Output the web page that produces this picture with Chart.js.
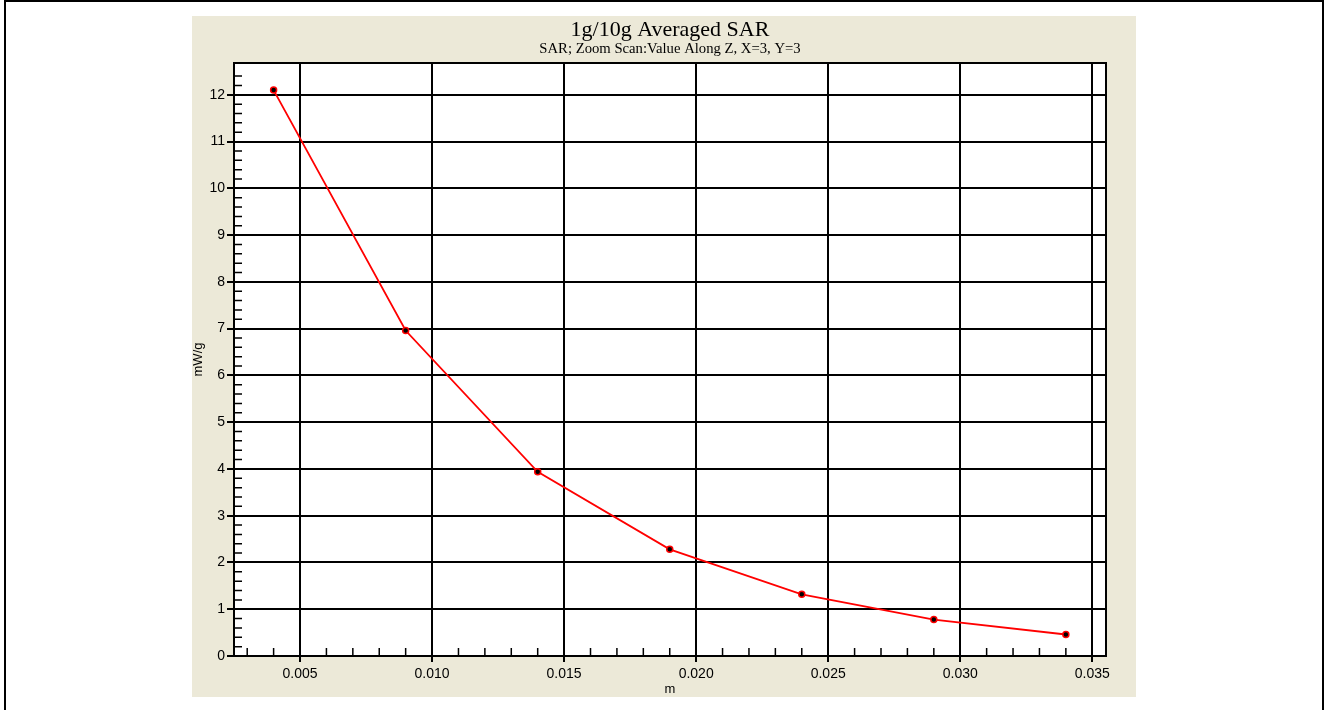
<!DOCTYPE html>
<html>
<head>
<meta charset="utf-8">
<title>1g/10g Averaged SAR</title>
<script src="https://cdn.jsdelivr.net/npm/chart.js@4.4.1/dist/chart.umd.min.js"></script>
<style>
    html, body { margin: 0; padding: 0; background: #fff; overflow: hidden; }
    #frame { position: absolute; left: 4px; top: 0; width: 1320px; height: 720px; border: 2px solid #000; border-bottom: none; box-sizing: border-box; }
    #panel { position: absolute; left: 192px; top: 16px; width: 944px; height: 681px; background: #ece9d8; }
</style>
</head>
<body>
<div id="frame"></div>
<div id="panel"><canvas id="sarChart" width="944" height="681"></canvas></div>
<script>
// depth along Z (m) and averaged SAR (mW/g)
var depths = [0.004, 0.009, 0.014, 0.019, 0.024, 0.029, 0.034];
var sarValues = [12.1, 6.96, 3.94, 2.28, 1.32, 0.78, 0.46];

var xTicks = [0.005, 0.010, 0.015, 0.020, 0.025, 0.030, 0.035];
var yTicks = [0, 1, 2, 3, 4, 5, 6, 7, 8, 9, 10, 11, 12];
var xRange = [0.0025, 0.03552];
var yRange = [0, 12.68];

var points = depths.map(function (d, i) {
    return { x: d, y: sarValues[i] };
});

// white plot area under the grid
var plotBackground = {
    id: 'plotBackground',
    beforeDraw: function (chart) {
        var ctx = chart.ctx, a = chart.chartArea;
        ctx.save();
        ctx.fillStyle = '#fff';
        ctx.fillRect(a.left, a.top, a.right - a.left, a.bottom - a.top);
        ctx.restore();
    }
};

// small inside ticks between the labelled ones, plus the box round the plot
var minorTicks = {
    id: 'minorTicks',
    afterDraw: function (chart) {
        var ctx = chart.ctx, a = chart.chartArea;
        var xs = chart.scales.x, ys = chart.scales.y;
        ctx.save();
        ctx.strokeStyle = '#000';
        ctx.lineWidth = 1.5;
        ctx.beginPath();
        for (var i = 1; i * 0.2 < yRange[1] - 0.1; i++) {
            if (i % 5 === 0) continue;
            var py = ys.getPixelForValue(i * 0.2);
            ctx.moveTo(a.left, py);
            ctx.lineTo(a.left + 8, py);
        }
        for (var k = 1; k < 40; k++) {
            if (k % 5 === 0) continue;
            var v = k / 1000;
            if (v <= xRange[0] || v >= xRange[1]) continue;
            var px = xs.getPixelForValue(v);
            ctx.moveTo(px, a.bottom);
            ctx.lineTo(px, a.bottom - 8);
        }
        ctx.stroke();
        ctx.lineWidth = 2;
        ctx.strokeRect(a.left, a.top, a.right - a.left, a.bottom - a.top);
        ctx.restore();
    }
};

var tickFont = { family: 'Liberation Sans', size: 14 };

var ctx = document.getElementById('sarChart').getContext('2d');
var chart = new Chart(ctx, {
    type: 'scatter',
    data: {
        datasets: [{
            data: points,
            showLine: true,
            borderColor: '#ff0000',
            borderWidth: 1.8,
            tension: 0,
            pointRadius: 3,
            pointBackgroundColor: '#000',
            pointBorderColor: '#ff0000',
            pointBorderWidth: 1.5,
            clip: false
        }]
    },
    plugins: [plotBackground, minorTicks],
    options: {
        responsive: false,
        animation: false,
        events: [],
        layout: { padding: { left: 0, right: 30, top: 0, bottom: 0 } },
        plugins: {
            legend: { display: false },
            tooltip: { enabled: false },
            title: {
                display: true,
                fullSize: false,
                text: '1g/10g Averaged SAR',
                color: '#000',
                font: { family: 'Liberation Serif', size: 22, weight: 'normal', lineHeight: 1 },
                padding: { top: 3, bottom: 0 }
            },
            subtitle: {
                display: true,
                fullSize: false,
                text: 'SAR; Zoom Scan:Value Along Z, X=3, Y=3',
                color: '#000',
                font: { family: 'Liberation Serif', size: 14.7, weight: 'normal', lineHeight: 1 },
                padding: { top: 0.5, bottom: 6.8 }
            }
        },
        scales: {
            x: {
                type: 'linear',
                min: xRange[0],
                max: xRange[1],
                afterBuildTicks: function (scale) {
                    scale.ticks = xTicks.map(function (v) { return { value: v }; });
                },
                afterFit: function (scale) { scale.height = 41; },
                grid: { color: '#000', lineWidth: 2, tickLength: 6, tickColor: '#000', tickWidth: 2 },
                border: { display: true, color: '#000', width: 2 },
                ticks: {
                    color: '#000',
                    font: tickFont,
                    padding: 4,
                    maxRotation: 0,
                    autoSkip: false,
                    callback: function (v) { return v.toFixed(3); }
                },
                title: {
                    display: true,
                    text: 'm',
                    color: '#000',
                    font: { family: 'Liberation Sans', size: 13, lineHeight: 1 },
                    padding: { top: 0, bottom: 1.5 }
                }
            },
            y: {
                type: 'linear',
                min: yRange[0],
                max: yRange[1],
                afterBuildTicks: function (scale) {
                    scale.ticks = yTicks.map(function (v) { return { value: v }; });
                },
                afterFit: function (scale) { scale.width = 42; },
                grid: { color: '#000', lineWidth: 2, tickLength: 7, tickColor: '#000', tickWidth: 2 },
                border: { display: true, color: '#000', width: 2 },
                ticks: {
                    color: '#000',
                    font: tickFont,
                    padding: 2,
                    autoSkip: false
                },
                title: {
                    display: true,
                    text: 'mW/g',
                    color: '#000',
                    font: { family: 'Liberation Sans', size: 13, lineHeight: 1 },
                    padding: { top: 0, bottom: 0.5 }
                }
            }
        }
    }
});
</script>
</body>
</html>
